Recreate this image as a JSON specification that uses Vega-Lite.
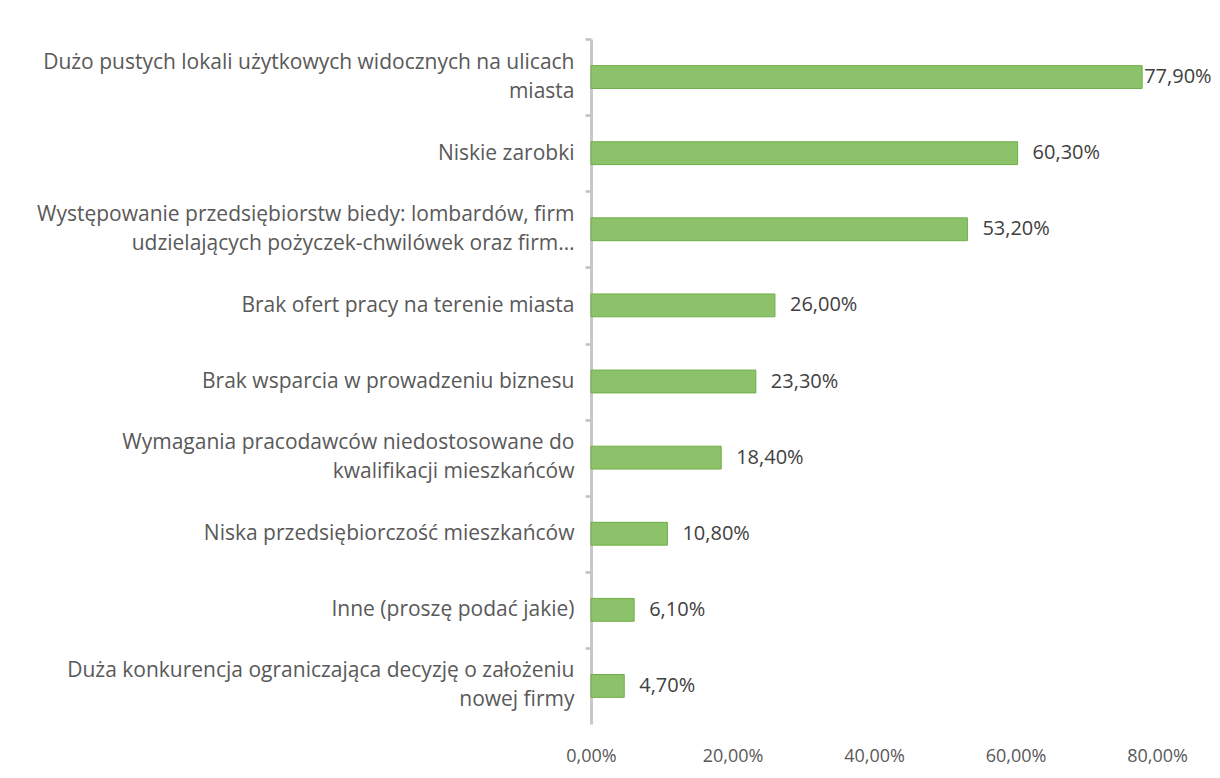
{
  "$schema": "https://vega.github.io/schema/vega-lite/v6.json",
  "autosize": {"type": "none"},
  "width": 566,
  "height": 685,
  "padding": {"left": 591, "top": 39, "right": 63, "bottom": 54},
  "background": "white",
  "config": {
    "view": {"stroke": null},
    "locale": {"number": {"decimal": ",", "thousands": " ", "grouping": [3], "currency": ["", " zł"]}},
    "font": "Open Sans"
  },
  "data": {
    "values": [
      {"cat": "Dużo pustych lokali użytkowych widocznych na ulicach|miasta", "v": 0.779},
      {"cat": "Niskie zarobki", "v": 0.603},
      {"cat": "Występowanie przedsiębiorstw biedy: lombardów, firm|udzielających pożyczek-chwilówek oraz firm…", "v": 0.532},
      {"cat": "Brak ofert pracy na terenie miasta", "v": 0.26},
      {"cat": "Brak wsparcia w prowadzeniu biznesu", "v": 0.233},
      {"cat": "Wymagania pracodawców niedostosowane do|kwalifikacji mieszkańców", "v": 0.184},
      {"cat": "Niska przedsiębiorczość mieszkańców", "v": 0.108},
      {"cat": "Inne (proszę podać jakie)", "v": 0.061},
      {"cat": "Duża konkurencja ograniczająca decyzję o założeniu|nowej firmy", "v": 0.047}
    ]
  },
  "resolve": {"axis": {"y": "independent"}},
  "layer": [
    {
      "mark": {"type": "bar", "fill": "#8cc36a", "stroke": "#70ad47", "strokeWidth": 1},
      "encoding": {
        "y": {
          "field": "cat", "type": "nominal", "sort": null,
          "scale": {"paddingInner": 0.7, "paddingOuter": 0.35},
          "axis": {
            "orient": "left", "title": null,
            "labelExpr": "indexof(datum.label, '|') >= 0 ? '' : datum.label",
            "labelFont": "Open Sans", "labelFontSize": 21, "labelColor": "#595959",
            "labelLimit": 600, "labelPadding": 11, "labelOffset": 38,
            "ticks": true, "tickOffset": -38, "tickSize": 6, "tickColor": "#c0c0c0", "tickWidth": 2.5, "tickOpacity": 1,
            "domainColor": "#c8c8c8", "domainWidth": 3
          }
        },
        "x": {
          "field": "v", "type": "quantitative",
          "scale": {"domain": [0, 0.8], "nice": false},
          "axis": {
            "title": null, "format": ".2%", "values": [0, 0.2, 0.4, 0.6, 0.8],
            "domain": false, "ticks": false, "grid": false,
            "labelFont": "Open Sans", "labelFontSize": 18, "labelColor": "#595959",
            "labelPadding": 23, "labelFlush": false
          }
        }
      }
    },
    {
      "transform": [{"filter": "datum.v < 0.7"}],
      "mark": {"type": "text", "align": "left", "baseline": "middle", "dx": 15, "fontSize": 20, "font": "Open Sans", "color": "#404040"},
      "encoding": {
        "y": {
          "field": "cat", "type": "nominal", "sort": null,
          "axis": {
            "orient": "left", "title": null,
            "labelExpr": "indexof(datum.label, '|') >= 0 ? split(datum.label, '|') : ''",
            "labelFont": "Open Sans", "labelFontSize": 21, "labelColor": "#595959",
            "labelLineHeight": 29, "labelLimit": 600, "labelPadding": 17, "labelOffset": -14.5,
            "ticks": false, "tickSize": 0, "domain": false
          }
        },
        "x": {"field": "v", "type": "quantitative"},
        "text": {"field": "v", "type": "quantitative", "format": ".2%"}
      }
    },
    {
      "transform": [{"filter": "datum.v >= 0.7"}],
      "mark": {"type": "text", "align": "left", "baseline": "middle", "dx": 2, "fontSize": 20, "font": "Open Sans", "color": "#404040"},
      "encoding": {
        "y": {"field": "cat", "type": "nominal", "sort": null, "axis": null},
        "x": {"field": "v", "type": "quantitative"},
        "text": {"field": "v", "type": "quantitative", "format": ".2%"}
      }
    }
  ]
}
